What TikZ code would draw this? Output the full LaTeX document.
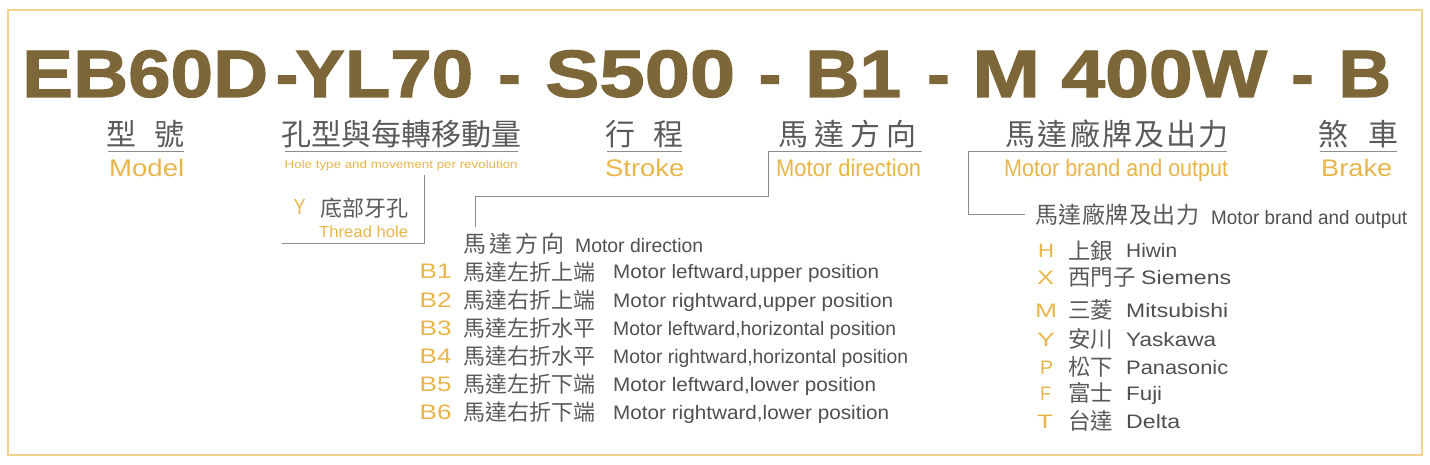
\documentclass[tikz,border=0pt]{standalone}
\usepackage{fontspec}
\usepackage{graphicx}
\setmainfont{Liberation Sans}
\newfontfamily\cjk{Noto Sans CJK TC}
\newfontfamily\titlef[FakeBold=1.6]{Liberation Sans Bold}
\definecolor{titlec}{HTML}{7D6637}
\definecolor{goldc}{HTML}{E8B54A}
\definecolor{grayc}{HTML}{5A5A5A}
\definecolor{textc}{HTML}{4F4F4F}
\definecolor{linec}{HTML}{8C8C8C}
\definecolor{framec}{HTML}{F2D48E}
\newcommand\fs[1]{\fontsize{#1}{#1}\selectfont}
\newcommand\fitw[2]{\resizebox{#1pt}{\height}{#2}}
\newcommand\spr[2]{\makebox[#1pt][s]{#2}}
\begin{document}
\begin{tikzpicture}[x=1pt,y=-1pt,
  txt/.style={inner sep=0pt, anchor=base west},
  ttl/.style={txt, text=titlec, font=\titlef\fs{67}},
  hyph/.style={inner sep=0pt, anchor=base, text=titlec, font=\titlef\fs{67}},
  gold/.style={txt, text=goldc},
  head/.style={txt, text=grayc, font=\cjk\fs{30}},
  zh/.style={txt, text=grayc, font=\cjk},
  eng/.style={txt, text=textc},
  ul/.style={draw=linec, line width=1pt},
  conn/.style={draw=linec, line width=1pt}]
\useasboundingbox (0,0) rectangle (1430,465);
\draw[framec, line width=2pt] (8,10) rectangle (1422,455);
% title
\node[ttl] (t1) at (22,97) {\fitw{246}{EB60D}};
\node[hyph] (h1) at (287,97) {-};
\node[ttl] (t2) at (295,97) {\fitw{178}{YL70}};
\node[hyph] (h2) at (509.5,97) {-};
\node[ttl] (t3) at (545,97) {\fitw{190}{S500}};
\node[hyph] (h3) at (770,97) {-};
\node[ttl] (t4) at (805,97) {\fitw{96}{B1}};
\node[hyph] (h4) at (938.5,97) {-};
\node[ttl] (t5) at (972,97) {\fitw{68}{M}};
\node[ttl] (t6) at (1061,97) {\fitw{206}{400W}};
\node[hyph] (h5) at (1302.5,97) {-};
\node[ttl] (t7) at (1338,97) {\fitw{53}{B}};
% headings
\node[head] (k1) at (106.5,146) {\spr{78}{型\hfill 號}};
\node[head] (k2) at (281.5,146) {\spr{238}{孔\hfill 型\hfill 與\hfill 每\hfill 轉\hfill 移\hfill 動\hfill 量}};
\node[head] (k3) at (605.5,146) {\spr{78}{行\hfill 程}};
\node[head] (k4) at (778.5,146) {\spr{138}{馬\hfill 達\hfill 方\hfill 向}};
\node[head] (k5) at (1005.5,146) {\spr{223}{馬\hfill 達\hfill 廠\hfill 牌\hfill 及\hfill 出\hfill 力}};
\node[head] (k6) at (1318.5,146) {\spr{80}{煞\hfill 車}};
% underlines
\coordinate (u1a) at (108,152); \coordinate (u1b) at (184,152);
\coordinate (u2a) at (285,152); \coordinate (u2b) at (518,152);
\coordinate (u3a) at (607,152); \coordinate (u3b) at (682,152);
\coordinate (u4a) at (768,152); \coordinate (u4b) at (922,152);
\coordinate (u5a) at (968,152); \coordinate (u5b) at (1227,152);
\coordinate (u6a) at (1320,152); \coordinate (u6b) at (1397,152);
\draw[ul] (u1a) -- (u1b);
\draw[ul] (u2a) -- (u2b);
\draw[ul] (u3a) -- (u3b);
\draw[ul] (u4a) -- (u4b);
\draw[ul] (u5a) -- (u5b);
\draw[ul] (u6a) -- (u6b);
% subtitles
\node[gold, font=\fs{24}] (e1) at (109,177) {\fitw{75}{Model}};
\node[gold, font=\fs{11.5}] (e2) at (284.5,169) {\fitw{233}{Hole type and movement per revolution}};
\node[gold, font=\fs{24}] (e3) at (605,177) {\fitw{79}{Stroke}};
\node[gold, font=\fs{24}] (e4) at (776,177) {\fitw{145}{Motor direction}};
\node[gold, font=\fs{24}] (e5) at (1004,177) {\fitw{224}{Motor brand and output}};
\node[gold, font=\fs{24}] (e6) at (1321,177) {\fitw{71}{Brake}};
% thread hole
\node[gold, font=\fs{22}] (yk) at (293.5,215) {\fitw{12}{Y}};
\node[zh, font=\cjk\fs{22}] (yz) at (320,216.5) {\spr{88}{底\hfill 部\hfill 牙\hfill 孔}};
\node[gold, font=\fs{16}] (ye) at (319,238) {\fitw{89}{Thread hole}};
\coordinate (c1a) at (424,175); \coordinate (c1b) at (424,244); \coordinate (c1c) at (282,244);
\draw[conn] (c1a) -- (c1b) -- (c1c);
% motor direction connector
\coordinate (c2b) at (768,197); \coordinate (c2c) at (475,197); \coordinate (c2d) at (475,227);
\draw[conn] (u4a) -- (c2b) -- (c2c) -- (c2d);
% motor brand connector
\coordinate (c3b) at (968,215); \coordinate (c3c) at (1025,215);
\draw[conn] (u5a) -- (c3b) -- (c3c);
% lower-left list
\node[zh, font=\cjk\fs{23}] (mdz) at (463,252) {\spr{101}{馬\hfill 達\hfill 方\hfill 向}};
\node[eng, font=\fs{19.5}] (mde) at (575,252) {\fitw{128}{Motor direction}};
\foreach \n/\yy/\zhs/\en/\w in {
  1/279/馬達左折上端/{Motor leftward,upper position}/266,
  2/307/馬達右折上端/{Motor rightward,upper position}/280,
  3/335/馬達左折水平/{Motor leftward,horizontal position}/283,
  4/363/馬達右折水平/{Motor rightward,horizontal position}/295,
  5/391/馬達左折下端/{Motor leftward,lower position}/263,
  6/419/馬達右折下端/{Motor rightward,lower position}/276}{
  \node[gold, font=\fs{21}] (b\n) at (419.5,\yy) {\fitw{32}{B\n}};
  \node[zh, font=\cjk\fs{22}] (bz\n) at (463,\yy+1.5) {\spr{132}{\zhs}};
  \node[eng, font=\fs{19.5}] (be\n) at (613,\yy) {\fitw{\w}{\en}};
}
% right list
\node[zh, font=\cjk\fs{23}] (mbz) at (1035,223.5) {\spr{164}{馬\hfill 達\hfill 廠\hfill 牌\hfill 及\hfill 出\hfill 力}};
\node[eng, font=\fs{19.5}] (mbe) at (1211,225) {\fitw{196}{Motor brand and output}};
\foreach \k/\yy/\kl/\kw/\zhs/\ex/\en/\ew in {
  H/258/1038/16/{上銀}/1126/Hiwin/51,
  X/284/1037/17/{西門子}/1141/Siemens/90,
  M/317/1035/22/{三菱}/1126/Mitsubishi/102,
  Y/346/1037/18/{安川}/1126/Yaskawa/90,
  P/374/1040/13/{松下}/1126/Panasonic/102,
  F/400/1040/11/{富士}/1126/Fuji/36,
  T/428/1037/16/{台達}/1126/Delta/54}{
  \node[gold, font=\fs{19.5}] (r\k) at (\kl,\yy) {\fitw{\kw}{\k}};
  \node[zh, font=\cjk\fs{22.5}] (rz\k) at (1068,\yy+1.5) {\zhs};
  \node[eng, font=\fs{19.5}] (re\k) at (\ex,\yy) {\fitw{\ew}{\en}};
}
\end{tikzpicture}
\end{document}
